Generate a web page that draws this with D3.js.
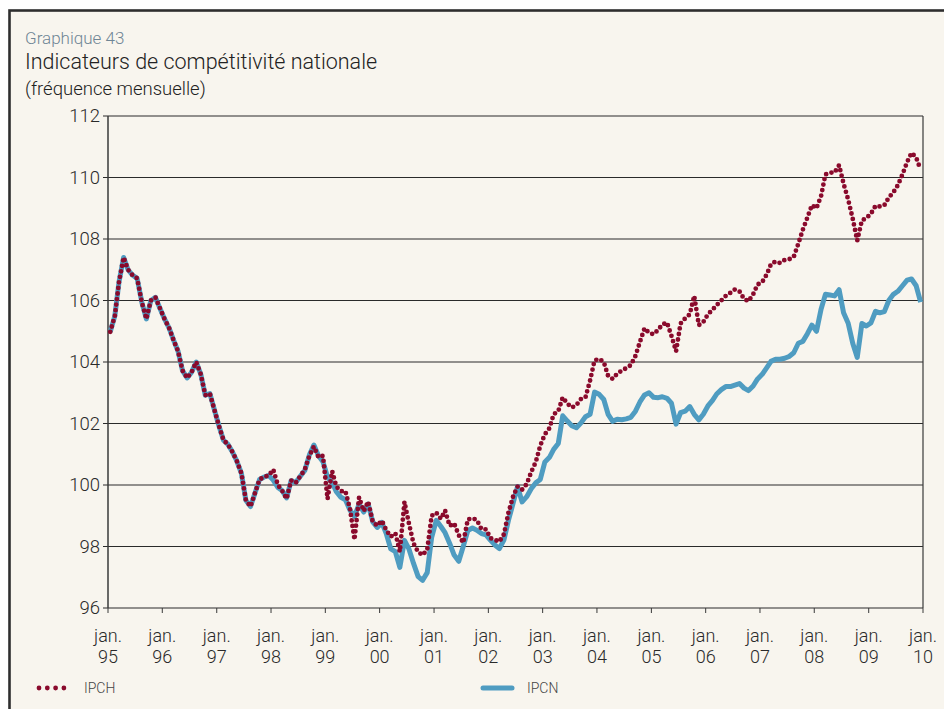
<!DOCTYPE html>
<html>
<head>
<meta charset="utf-8">
<script src="https://cdn.jsdelivr.net/npm/d3@7/dist/d3.min.js"></script>
<style>
  html, body { margin: 0; padding: 0; background: #ffffff; }
  svg { display: block; }
  text { font-family: Roboto, "Noto Sans", sans-serif; font-weight: 300; }
</style>
</head>
<body>
<svg id="chart" width="944" height="709"></svg>
<script>
// Monthly series, January 1995 to December 2009
const firstYear = 1995;
const yearTicks = ["95","96","97","98","99","00","01","02","03","04","05","06","07","08","09","10"];
const yTicks = [96, 98, 100, 102, 104, 106, 108, 110, 112];
const seriesNames = ["IPCH", "IPCN"];

const ipcn = [
  104.98, 105.5, 106.6, 107.4, 107.0, 106.82, 106.72, 105.95, 105.4, 106.0, 106.1, 105.75,
  105.4, 105.1, 104.72, 104.35, 103.72, 103.48, 103.67, 104.0, 103.6, 102.92, 102.97, 102.45,
  101.92, 101.45, 101.33, 101.08, 100.78, 100.38, 99.5, 99.3, 99.75, 100.18, 100.26, 100.31,
  100.16, 99.92, 99.82, 99.58, 100.14, 100.08, 100.28, 100.47, 100.98, 101.3, 100.95, 100.76,
  100.25, 100.08, 99.78, 99.6, 99.52, 99.18, 98.98, 99.38, 99.12, 99.38, 98.8, 98.62,
  98.78, 98.4, 97.92, 97.83, 97.32, 98.2, 97.92, 97.45, 97.02, 96.9, 97.15, 98.3,
  98.85, 98.65, 98.45, 98.1, 97.72, 97.52, 98.0, 98.52, 98.6, 98.53, 98.42, 98.38,
  98.2, 98.04, 97.93, 98.22, 98.85, 99.4, 99.95, 99.45, 99.62, 99.88, 100.07, 100.18,
  100.75, 100.9, 101.16, 101.35, 102.25, 102.08, 101.93, 101.86, 102.02, 102.22, 102.3, 103.02,
  102.95, 102.78, 102.3, 102.07, 102.14, 102.12, 102.15, 102.2, 102.4, 102.7, 102.93, 103.0,
  102.85, 102.84, 102.87, 102.82, 102.66, 101.98, 102.35, 102.4, 102.55, 102.3, 102.12, 102.3,
  102.57, 102.75, 102.96, 103.1, 103.2, 103.2, 103.25, 103.3, 103.15, 103.07, 103.22, 103.45,
  103.6, 103.82, 104.02, 104.09, 104.09, 104.12, 104.18, 104.3, 104.61, 104.67, 104.92, 105.2,
  105.0, 105.72, 106.2, 106.18, 106.15, 106.35, 105.6, 105.26, 104.6, 104.15, 105.25, 105.17,
  105.27, 105.65, 105.6, 105.64, 106.0, 106.2, 106.3, 106.48, 106.66, 106.7, 106.48, 105.95
];

const ipch = [
  104.98, 105.5, 106.6, 107.4, 107.0, 106.82, 106.72, 105.95, 105.4, 106.0, 106.1, 105.75,
  105.4, 105.1, 104.72, 104.35, 103.72, 103.48, 103.67, 104.0, 103.6, 102.92, 102.97, 102.45,
  101.92, 101.45, 101.33, 101.08, 100.78, 100.38, 99.5, 99.3, 99.75, 100.18, 100.26, 100.31,
  100.5, 100.0, 99.82, 99.55, 100.15, 100.07, 100.28, 100.5, 100.95, 101.25, 100.9, 100.95,
  99.55, 100.45, 99.95, 99.8, 99.8, 99.22, 98.22, 99.6, 99.15, 99.46, 98.8, 98.68,
  98.84, 98.52, 98.32, 98.43, 97.83, 99.45, 98.75, 98.1, 97.82, 97.72, 97.9, 99.0,
  99.1, 98.9, 99.17, 98.67, 98.75, 98.37, 98.12, 98.88, 98.92, 98.86, 98.56, 98.56,
  98.27, 98.21, 98.16, 98.4, 99.1, 99.62, 99.95, 99.85, 100.03, 100.42, 100.75, 101.28,
  101.65, 101.85, 102.3, 102.4, 102.85, 102.65, 102.52, 102.6, 102.8, 102.85, 103.4, 104.05,
  104.1, 104.0, 103.55, 103.45, 103.62, 103.72, 103.8, 103.9, 104.2, 104.65, 105.1, 104.95,
  104.9, 105.05, 105.22, 105.28, 104.85, 104.35, 105.25, 105.42, 105.55, 106.15, 105.2, 105.3,
  105.55, 105.7, 105.85, 106.0, 106.15, 106.25, 106.36, 106.3, 106.05, 105.98, 106.2, 106.52,
  106.6, 106.85, 107.18, 107.27, 107.22, 107.32, 107.34, 107.42, 107.85, 108.3, 108.7, 109.1,
  109.0, 109.4, 110.1, 110.16, 110.16, 110.4, 109.8, 109.28, 108.65, 107.95, 108.6, 108.68,
  108.82, 109.08, 109.06, 109.1, 109.35, 109.52, 109.75, 110.1, 110.5, 110.8, 110.65, 110.25
];

const colors = { IPCH: "#8a0a2c", IPCN: "#4f9cc1" };

const svg = d3.select("#chart");
const W = 944, H = 709;

// framed panel
svg.append("rect").attr("x", 0).attr("y", 0).attr("width", W).attr("height", H).attr("fill", "#ffffff");
svg.append("rect").attr("x", 9.5).attr("y", 10.5).attr("width", W + 20).attr("height", H + 20)
  .attr("fill", "#f8f5ee").attr("stroke", "#2e2e2e").attr("stroke-width", 2.6);

// headings
svg.append("text").attr("x", 25).attr("y", 44).attr("fill", "#6f8595")
  .attr("font-size", 17).text("Graphique 43");
svg.append("text").attr("x", 25).attr("y", 69).attr("fill", "#222")
  .attr("font-size", 21.5).text("Indicateurs de compétitivité nationale");
svg.append("text").attr("x", 25).attr("y", 95).attr("fill", "#222")
  .attr("font-size", 18.5).text("(fréquence mensuelle)");

const plotLeft = 108, plotRight = 923, plotTop = 116, plotBottom = 608;

const x = d3.scaleTime()
  .domain([new Date(firstYear, 0, 1), new Date(firstYear + yearTicks.length - 1, 0, 1)])
  .range([plotLeft, plotRight]);
const y = d3.scaleLinear().domain([96, 112]).range([plotBottom, plotTop]);

const dates = ipcn.map((_, i) => new Date(firstYear, i, 16));

// horizontal grid
const grid = svg.append("g");
grid.selectAll("line").data(yTicks).join("line")
  .attr("x1", plotLeft - 5).attr("x2", plotRight)
  .attr("y1", d => y(d)).attr("y2", d => y(d))
  .attr("stroke", "#2a2a2a").attr("stroke-width", 1.1);

// y labels
const yAxis = d3.axisLeft(y).tickValues(yTicks).tickSize(0).tickPadding(8);
const gy = svg.append("g").attr("transform", `translate(${plotLeft},0)`).call(yAxis);
gy.select(".domain").remove();
gy.selectAll("text").attr("font-size", 18.5).attr("fill", "#2a2a2a")
  .style("font-family", "Roboto, sans-serif").style("font-weight", 300);

// plot frame sides
svg.append("line").attr("x1", plotLeft).attr("x2", plotLeft).attr("y1", plotTop).attr("y2", plotBottom)
  .attr("stroke", "#3a3a3a").attr("stroke-width", 1.5);
svg.append("line").attr("x1", plotRight).attr("x2", plotRight).attr("y1", plotTop).attr("y2", plotBottom)
  .attr("stroke", "#3a3a3a").attr("stroke-width", 1.2);

// x axis: ticks at each January
const jan = yearTicks.map((_, i) => new Date(firstYear + i, 0, 1));
const gx = svg.append("g").attr("transform", `translate(0,${plotBottom})`);
gx.selectAll("line").data(jan).join("line")
  .attr("x1", d => x(d)).attr("x2", d => x(d)).attr("y1", 0).attr("y2", 5)
  .attr("stroke", "#3a3a3a").attr("stroke-width", 1);
const lab = gx.selectAll("text").data(jan).join("text")
  .attr("x", d => x(d)).attr("text-anchor", "middle")
  .attr("font-size", 18).attr("fill", "#2a2a2a");
lab.append("tspan").attr("x", d => x(d)).attr("y", 34).text("jan.");
lab.append("tspan").attr("x", d => x(d)).attr("y", 55).text((d, i) => yearTicks[i]);

// series
const line = d3.line().x((d, i) => x(dates[i])).y(d => y(d));
svg.append("path").datum(ipcn).attr("d", line)
  .attr("fill", "none").attr("stroke", colors.IPCN).attr("stroke-width", 5)
  .attr("stroke-linejoin", "round");
svg.append("path").datum(ipch).attr("d", line)
  .attr("fill", "none").attr("stroke", colors.IPCH).attr("stroke-width", 4.8)
  .attr("stroke-linecap", "round").attr("stroke-dasharray", "0 5.6");

// legend
const lg = svg.append("g");
lg.append("line").attr("x1", 39).attr("x2", 64.5).attr("y1", 688).attr("y2", 688)
  .attr("stroke", colors.IPCH).attr("stroke-width", 4.8)
  .attr("stroke-linecap", "round").attr("stroke-dasharray", "0 8.3");
lg.append("text").attr("x", 84).attr("y", 693).attr("font-size", 14).attr("fill", "#444").text(seriesNames[0]);
lg.append("line").attr("x1", 483).attr("x2", 512).attr("y1", 688).attr("y2", 688)
  .attr("stroke", colors.IPCN).attr("stroke-width", 5).attr("stroke-linecap", "round");
lg.append("text").attr("x", 527).attr("y", 693).attr("font-size", 14).attr("fill", "#444").text(seriesNames[1]);
</script>
</body>
</html>
